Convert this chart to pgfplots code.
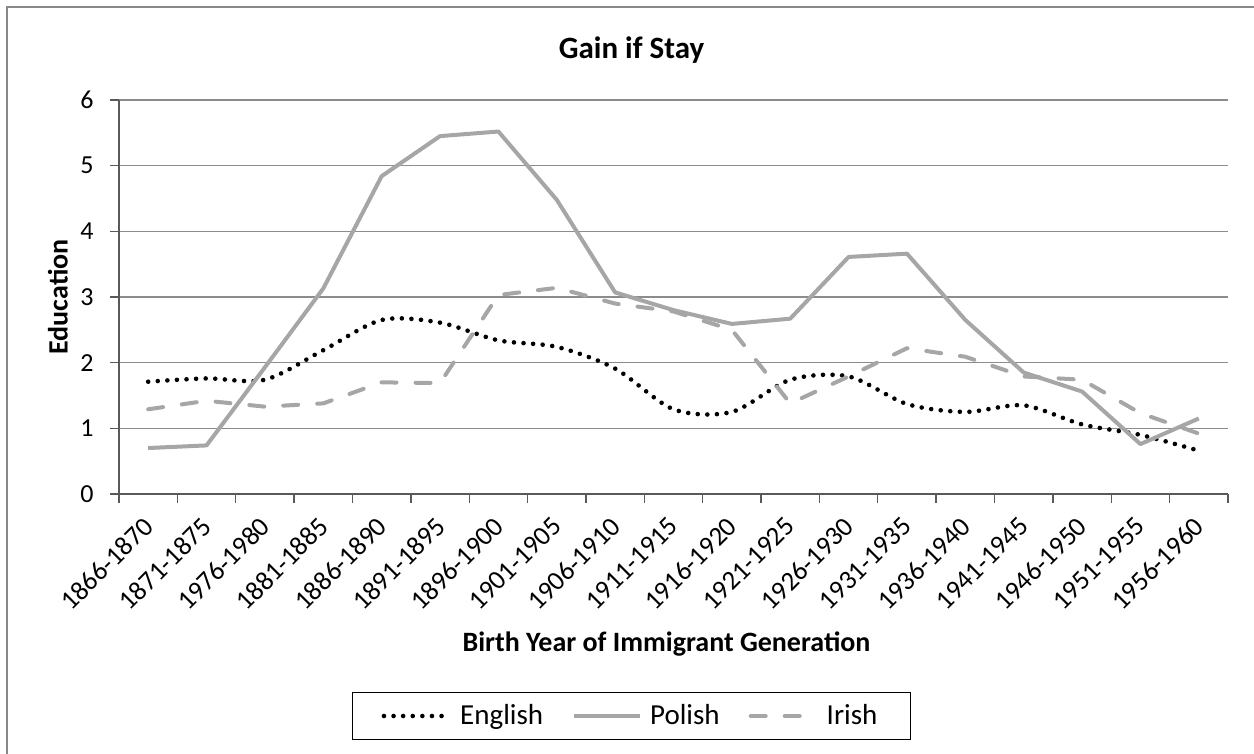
\documentclass[border=0pt]{standalone}
\usepackage{pgfplots}
\pgfplotsset{compat=1.18}
\usepackage{fontspec}
\setmainfont{Carlito}
\definecolor{lgray}{HTML}{A6A6A6}
\definecolor{gridc}{HTML}{8C8C8C}
\definecolor{axisc}{HTML}{595959}
\definecolor{framec}{HTML}{888888}
\begin{document}
\begin{tikzpicture}
\useasboundingbox (0,0) rectangle (627bp,377bp);
\draw[framec, line width=1.2bp] (3.5bp,0) -- (3.5bp,373.5bp) -- (627bp,373.5bp);
\begin{axis}[
  at={(59.5bp,130bp)}, anchor=south west,
  scale only axis, width=554.5bp, height=197bp,
  xmin=-0.5, xmax=18.5, ymin=0, ymax=6,
  /pgf/number format/assume math mode=true,
  xtick={0,...,18},
  xticklabels={1866-1870,1871-1875,1976-1980,1881-1885,1886-1890,1891-1895,1896-1900,1901-1905,1906-1910,1911-1915,1916-1920,1921-1925,1926-1930,1931-1935,1936-1940,1941-1945,1946-1950,1951-1955,1956-1960},
  minor xtick={-0.5,0.5,...,18.5},
  ytick={0,1,...,6},
  major x tick style={draw=none},
  tick align=outside,
  major tick length=4.5bp, minor tick length=4.5bp,
  tick style={axisc, line width=0.7bp},
  axis x line*=bottom, axis y line*=left,
  axis line style={axisc, line width=0.8bp, -},
  ymajorgrids, grid style={gridc, line width=0.7bp},
  xticklabel style={font=\fontsize{13.5bp}{15bp}\selectfont, rotate=45, anchor=north east, inner sep=0pt, xshift=-6.5bp, yshift=-2bp},
  yticklabel style={font=\fontsize{13bp}{15bp}\selectfont, anchor=east, inner sep=0pt, xshift=-8bp},
  title={Gain if Stay},
  title style={font=\bfseries\fontsize{15.5bp}{18bp}\selectfont, at={(axis description cs:0.5,1)}, anchor=center, yshift=19bp, xshift=-21bp},
  xlabel={Birth Year of Immigrant Generation},
  xlabel style={font=\bfseries\fontsize{14bp}{16bp}\selectfont, at={(axis description cs:0.5,0)}, anchor=center, yshift=-75bp, xshift=-3.5bp},
  ylabel={Education},
  ylabel style={font=\bfseries\fontsize{14bp}{16bp}\selectfont, at={(axis description cs:0,0.5)}, anchor=center, yshift=30.5bp},
  legend columns=3,
  legend style={at={(axis description cs:0.5,0)}, anchor=center, xshift=-21bp, yshift=-111bp,
    draw=black, line width=0.6bp, font=\fontsize{14.5bp}{17bp}\selectfont,
    inner xsep=14.5bp, inner ysep=4bp,
    /tikz/every odd column/.append style={column sep=2bp},
    /tikz/every even column/.append style={column sep=12.5bp}},
  legend cell align=left,
  legend image code/.code={\draw[#1] (0bp,0bp) -- (33bp,0bp);},
]
\addplot[black, line width=2.3bp, line cap=round, dash pattern=on 0bp off 4.8bp, smooth, tension=0.5] coordinates {
(0,1.71)(1,1.76)(2,1.74)(3,2.19)(4,2.65)(5,2.61)(6,2.34)(7,2.24)(8,1.91)(9,1.29)(10,1.25)(11,1.74)(12,1.79)(13,1.37)(14,1.25)(15,1.35)(16,1.06)(17,0.90)(18,0.66)};
\addlegendentry{English}
\addplot[lgray, line width=2bp, line join=round] coordinates {
(0,0.70)(1,0.74)(2,1.93)(3,3.13)(4,4.84)(5,5.45)(6,5.52)(7,4.48)(8,3.07)(9,2.80)(10,2.59)(11,2.67)(12,3.61)(13,3.66)(14,2.65)(15,1.85)(16,1.56)(17,0.76)(18,1.15)};
\addlegendentry{Polish}
\addplot[lgray, line width=2bp, line cap=round, line join=round, dash pattern=on 7.5bp off 9.5bp] coordinates {
(0,1.29)(1,1.42)(2,1.33)(3,1.38)(4,1.70)(5,1.69)(6,3.03)(7,3.14)(8,2.90)(9,2.78)(10,2.50)(11,1.38)(12,1.79)(13,2.22)(14,2.09)(15,1.79)(16,1.74)(17,1.23)(18,0.92)};
\addlegendentry{Irish}
\end{axis}
\end{tikzpicture}
\end{document}
